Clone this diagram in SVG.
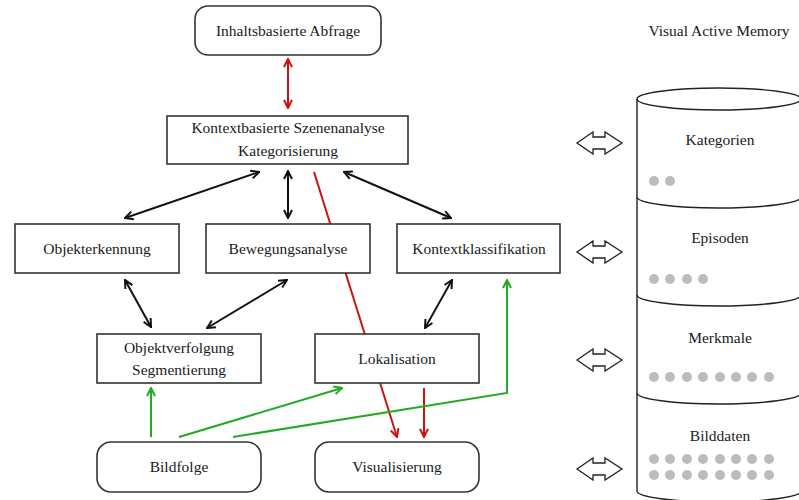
<svg xmlns="http://www.w3.org/2000/svg" width="799" height="500" viewBox="0 0 799 500">
<style>
text{font-family:"Liberation Serif","Times New Roman",serif;font-size:15.5px;fill:#1a1a1a;text-anchor:middle}
.box{fill:#fff;stroke:#333;stroke-width:1.6}
.c{fill:none;stroke-width:2}
.k{stroke:#111}
.r{stroke:#cc1111}
.g{stroke:#22aa22}
.dot{fill:#bcbcbc}
.hol{fill:#fff;stroke:#222;stroke-width:1.3;stroke-linejoin:miter}
.cyl{fill:none;stroke:#222;stroke-width:1.4}
</style>
<defs>
<marker id="ak" viewBox="0 0 10 10" refX="9" refY="5" markerWidth="10" markerHeight="10" markerUnits="userSpaceOnUse" orient="auto-start-reverse"><path d="M1,1 L9,5 L1,9" fill="none" stroke="#111" stroke-width="2"/></marker>
<marker id="ar" viewBox="0 0 10 10" refX="9" refY="5" markerWidth="10" markerHeight="10" markerUnits="userSpaceOnUse" orient="auto-start-reverse"><path d="M1,1 L9,5 L1,9" fill="none" stroke="#cc1111" stroke-width="2"/></marker>
<marker id="ag" viewBox="0 0 10 10" refX="9" refY="5" markerWidth="10" markerHeight="10" markerUnits="userSpaceOnUse" orient="auto-start-reverse"><path d="M1,1 L9,5 L1,9" fill="none" stroke="#22aa22" stroke-width="2"/></marker>
<path id="hollow" class="hol" d="M577,0 L593,-11 L593,-6 L605,-6 L605,-11 L622,0 L605,11 L605,6 L593,6 L593,11 Z"/>
</defs>

<g id="connectors">
<line class="c r" x1="288" y1="59" x2="288" y2="108" marker-start="url(#ar)" marker-end="url(#ar)"/>
<line class="c k" x1="259" y1="172" x2="125" y2="218" marker-start="url(#ak)" marker-end="url(#ak)"/>
<line class="c k" x1="288" y1="171" x2="288" y2="218" marker-start="url(#ak)" marker-end="url(#ak)"/>
<line class="c k" x1="344" y1="172" x2="451" y2="218" marker-start="url(#ak)" marker-end="url(#ak)"/>
<line class="c r" x1="314" y1="172" x2="397" y2="437" marker-end="url(#ar)"/>
<line class="c r" x1="424" y1="388" x2="424" y2="437" marker-end="url(#ar)"/>
<line class="c k" x1="125" y1="280" x2="151" y2="327" marker-start="url(#ak)" marker-end="url(#ak)"/>
<line class="c k" x1="287" y1="280" x2="207" y2="328" marker-start="url(#ak)" marker-end="url(#ak)"/>
<line class="c k" x1="452" y1="280" x2="425" y2="328" marker-start="url(#ak)" marker-end="url(#ak)"/>
<line class="c g" x1="151" y1="437" x2="151" y2="388" marker-end="url(#ag)"/>
<line class="c g" x1="179" y1="437" x2="342" y2="388" marker-end="url(#ag)"/>
<polyline class="c g" points="233,437 507,393 507,280" marker-end="url(#ag)"/>
</g>

<g id="n-abfrage"><rect class="box" x="195" y="6" width="186" height="49" rx="13"/><text x="288" y="36">Inhaltsbasierte Abfrage</text></g>
<g id="n-szenenanalyse"><rect class="box" x="167" y="116" width="241" height="48"/><text x="288" y="133">Kontextbasierte Szenenanalyse</text><text x="288" y="156">Kategorisierung</text></g>
<g id="n-objekterkennung"><rect class="box" x="15" y="224" width="164" height="49"/><text x="97" y="254">Objekterkennung</text></g>
<g id="n-bewegung"><rect class="box" x="206" y="224" width="164" height="49"/><text x="288" y="254">Bewegungsanalyse</text></g>
<g id="n-kontextkl"><rect class="box" x="397" y="224" width="163" height="49"/><text x="479" y="254">Kontextklassifikation</text></g>
<g id="n-objektverfolgung"><rect class="box" x="97" y="334" width="164" height="49"/><text x="179" y="353">Objektverfolgung</text><text x="179" y="375">Segmentierung</text></g>
<g id="n-lokalisation"><rect class="box" x="315" y="334" width="164" height="49"/><text x="397" y="364">Lokalisation</text></g>
<g id="n-bildfolge"><rect class="box" x="97" y="442" width="164" height="50" rx="14"/><text x="179" y="472">Bildfolge</text></g>
<g id="n-visualisierung"><rect class="box" x="315" y="442" width="164" height="50" rx="14"/><text x="397" y="472">Visualisierung</text></g>

<g id="memory">
<text x="719" y="36">Visual Active Memory</text>
<path class="cyl" d="M637,99 L637,491 A82,11 0 0 0 801,491 L801,99"/>
<ellipse class="cyl" cx="719" cy="99" rx="82" ry="11"/>
<path class="cyl" d="M637,197 A82,11 0 0 0 801,197"/>
<path class="cyl" d="M637,295 A82,11 0 0 0 801,295"/>
<path class="cyl" d="M637,393 A82,11 0 0 0 801,393"/>
<text x="720" y="145">Kategorien</text>
<text x="720" y="243">Episoden</text>
<text x="720" y="343">Merkmale</text>
<text x="720" y="441">Bilddaten</text>
<g class="dot">
<circle cx="654" cy="181" r="5"/><circle cx="670" cy="181" r="5"/>
<circle cx="654" cy="279" r="5"/><circle cx="670" cy="279" r="5"/><circle cx="687" cy="279" r="5"/><circle cx="703" cy="279" r="5"/>
<circle cx="654" cy="377" r="5"/><circle cx="670" cy="377" r="5"/><circle cx="687" cy="377" r="5"/><circle cx="703" cy="377" r="5"/><circle cx="720" cy="377" r="5"/><circle cx="736" cy="377" r="5"/><circle cx="752" cy="377" r="5"/><circle cx="769" cy="377" r="5"/>
<circle cx="654" cy="459" r="5"/><circle cx="670" cy="459" r="5"/><circle cx="687" cy="459" r="5"/><circle cx="703" cy="459" r="5"/><circle cx="720" cy="459" r="5"/><circle cx="736" cy="459" r="5"/><circle cx="752" cy="459" r="5"/><circle cx="769" cy="459" r="5"/>
<circle cx="654" cy="475" r="5"/><circle cx="670" cy="475" r="5"/><circle cx="687" cy="475" r="5"/><circle cx="703" cy="475" r="5"/><circle cx="720" cy="475" r="5"/><circle cx="736" cy="475" r="5"/><circle cx="752" cy="475" r="5"/><circle cx="769" cy="475" r="5"/>
</g>
<use href="#hollow" transform="translate(0,143)"/>
<use href="#hollow" transform="translate(0,252)"/>
<use href="#hollow" transform="translate(0,360)"/>
<use href="#hollow" transform="translate(0,469)"/>
</g>
</svg>
